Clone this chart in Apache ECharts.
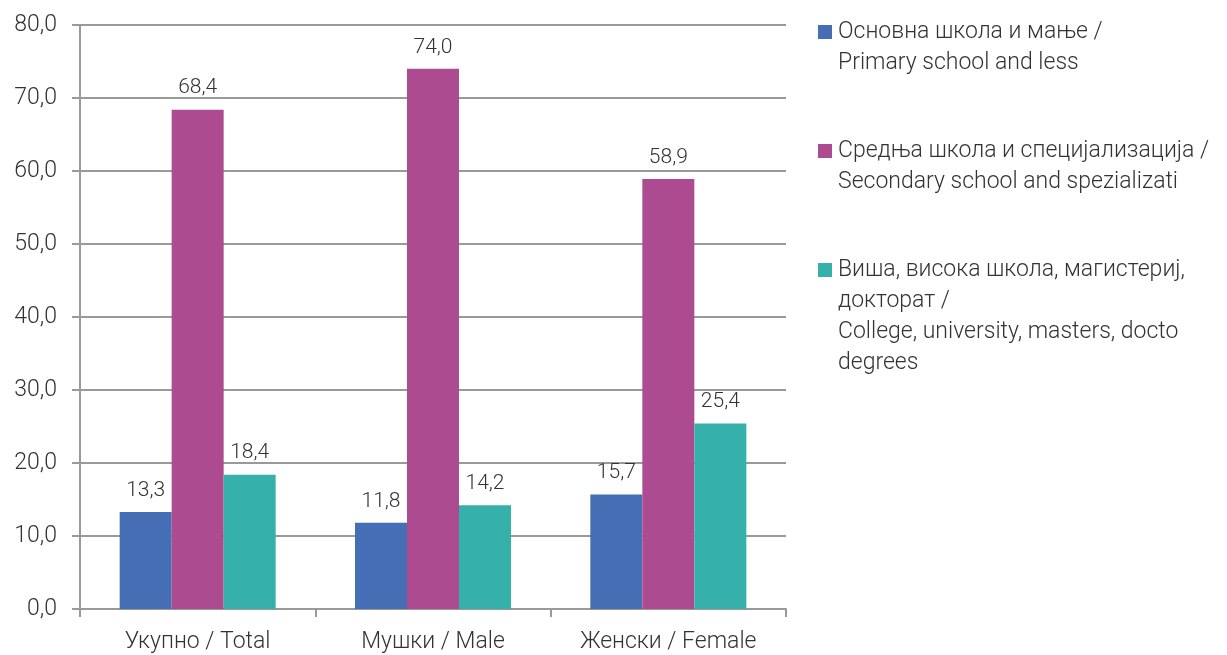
<!DOCTYPE html>
<html>
<head>
<meta charset="utf-8">
<script src="https://cdn.jsdelivr.net/npm/echarts@6/dist/echarts.min.js"></script>
<style>
html,body{margin:0;padding:0;background:#fff;}
#chart{width:1227px;height:655px;}
</style>
</head>
<body>
<div id="chart"></div>
<script>
var categories = ['Укупно / Total', 'Мушки / Male', 'Женски / Female'];
var seriesNames = [
  'Основна школа и мање /\nPrimary school and less',
  'Средња школа и специјализација /\nSecondary school and spezializati',
  'Виша, висока школа, магистериј,\nдокторат /\nCollege, university, masters, docto\ndegrees'
];
var primaryVals = [13.3, 11.8, 15.7];
var secondaryVals = [68.4, 74.0, 58.9];
var collegeVals = [18.4, 14.2, 25.4];
var colors = ['#466EB4', '#AD4B90', '#35B0AA'];

var fontFam = 'Roboto, "Noto Sans", sans-serif';
var txtColor = '#333';

function fmt(v) { return v.toFixed(1).replace('.', ','); }

var chart = echarts.init(document.getElementById('chart'));

// legend drawn by hand: multi-line labels with the box next to the first line
var legendTops = [17, 136, 255];
var legendGraphics = [];
seriesNames.forEach(function (name, i) {
  legendGraphics.push({
    type: 'rect', left: 818, top: legendTops[i] + 8,
    shape: { width: 14, height: 14 },
    style: { fill: colors[i] }
  });
  legendGraphics.push({
    type: 'text', left: 838, top: legendTops[i],
    style: {
      text: name, fontSize: 23, lineHeight: 31, fontWeight: 300,
      fontFamily: fontFam, fill: txtColor
    }
  });
});

function makeSeries(name, data, color) {
  return {
    name: name, type: 'bar', data: data,
    barWidth: 52, barGap: '0%',
    itemStyle: { color: color },
    label: {
      show: true, position: 'top', distance: 11,
      fontSize: 21, fontWeight: 300, fontFamily: fontFam, color: txtColor,
      formatter: function (p) { return fmt(p.value); }
    }
  };
}

chart.setOption({
  animation: false,
  backgroundColor: '#fff',
  grid: { left: 80, right: 441, top: 25, bottom: 46, containLabel: false },
  xAxis: {
    type: 'category', data: categories,
    axisLine: { lineStyle: { color: '#999', width: 2 } },
    axisTick: { show: true, length: 8, lineStyle: { color: '#999', width: 2 } },
    axisLabel: { fontSize: 23, fontWeight: 300, fontFamily: fontFam, color: txtColor, margin: 22 }
  },
  yAxis: {
    type: 'value', min: 0, max: 80, interval: 10,
    axisLine: { show: true, lineStyle: { color: '#999', width: 2 } },
    axisTick: { show: true, length: 8, lineStyle: { color: '#999', width: 2 } },
    splitLine: { show: true, lineStyle: { color: '#999', width: 2 } },
    axisLabel: {
      fontSize: 23, fontWeight: 300, fontFamily: fontFam, color: txtColor, margin: 23,
      formatter: function (v) { return fmt(v); }
    }
  },
  graphic: legendGraphics,
  series: [
    makeSeries(seriesNames[0], primaryVals, colors[0]),
    makeSeries(seriesNames[1], secondaryVals, colors[1]),
    makeSeries(seriesNames[2], collegeVals, colors[2])
  ]
});
</script>
</body>
</html>
